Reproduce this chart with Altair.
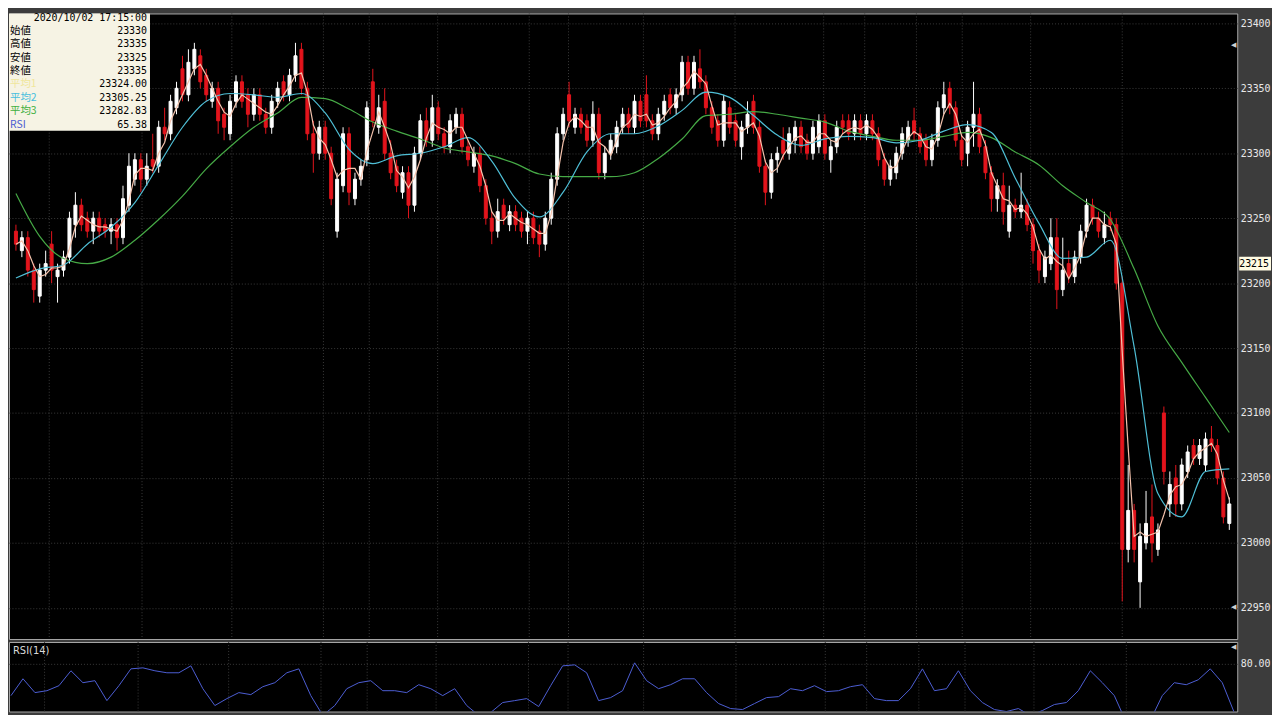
import altair as alt
import pandas as pd

# ---------------- data ----------------
opens = [23240, 23225, 23235, 23210, 23190, 23210, 23230, 23205, 23210, 23220,
         23245, 23260, 23250, 23240, 23250, 23245, 23240, 23245, 23235, 23260,
         23280, 23295, 23280, 23295, 23290, 23320, 23315, 23335, 23365, 23345,
         23365, 23375, 23360, 23340, 23350, 23330, 23315, 23340, 23355, 23345,
         23330, 23345, 23330, 23320, 23340, 23355, 23345, 23360, 23380, 23350,
         23315, 23300, 23320, 23300, 23240, 23275, 23315, 23265, 23280, 23295,
         23355, 23320, 23340, 23300, 23290, 23270, 23285, 23260, 23300, 23325,
         23310, 23335, 23315, 23305, 23320, 23330, 23305, 23290, 23300, 23275,
         23250, 23240, 23260, 23245, 23255, 23250, 23240, 23250, 23240, 23230,
         23250, 23280, 23315, 23345, 23320, 23330, 23325, 23310, 23330, 23285,
         23300, 23305, 23320, 23330, 23320, 23340, 23345, 23325, 23315, 23330,
         23345, 23335, 23345, 23370, 23350, 23365, 23355, 23335, 23325, 23310,
         23335, 23325, 23305, 23320, 23340, 23320, 23290, 23270, 23295, 23310,
         23300, 23310, 23320, 23310, 23300, 23305, 23325, 23295, 23305, 23325,
         23325, 23315, 23325, 23315, 23325, 23315, 23295, 23280, 23285, 23300,
         23310, 23325, 23315, 23310, 23295, 23310, 23335, 23350, 23335, 23310,
         23300, 23320, 23330, 23305, 23285, 23265, 23275, 23240, 23260, 23255,
         23260, 23245, 23225, 23205, 23215, 23235, 23195, 23215, 23205, 23220,
         23240, 23260, 23250, 23235, 23250, 23245, 23200, 22995, 23025, 22970,
         23000, 23020, 22995, 23100, 23030, 23050, 23030, 23055, 23075, 23065,
         23060, 23080, 23075, 23050, 23015]
highs = [23245, 23240, 23240, 23215, 23215, 23225, 23240, 23215, 23225, 23255,
         23270, 23265, 23255, 23255, 23255, 23250, 23250, 23250, 23275, 23300,
         23300, 23300, 23300, 23315, 23325, 23335, 23345, 23355, 23375, 23380,
         23385, 23380, 23365, 23355, 23355, 23335, 23345, 23360, 23360, 23350,
         23350, 23350, 23335, 23345, 23355, 23360, 23365, 23385, 23385, 23355,
         23325, 23325, 23325, 23305, 23285, 23320, 23320, 23285, 23295, 23340,
         23365, 23345, 23350, 23310, 23295, 23290, 23290, 23305, 23330, 23335,
         23345, 23340, 23320, 23330, 23335, 23335, 23310, 23305, 23305, 23280,
         23255, 23265, 23265, 23260, 23260, 23255, 23255, 23255, 23245, 23255,
         23285, 23320, 23335, 23355, 23335, 23335, 23330, 23340, 23335, 23305,
         23315, 23325, 23335, 23335, 23345, 23345, 23360, 23330, 23335, 23345,
         23350, 23350, 23375, 23375, 23375, 23380, 23360, 23340, 23330, 23345,
         23340, 23330, 23325, 23340, 23345, 23325, 23295, 23300, 23305, 23320,
         23320, 23325, 23325, 23315, 23325, 23330, 23330, 23310, 23325, 23330,
         23330, 23330, 23330, 23330, 23330, 23320, 23300, 23295, 23305, 23320,
         23325, 23335, 23320, 23315, 23315, 23340, 23355, 23355, 23340, 23315,
         23325, 23355, 23335, 23310, 23290, 23280, 23285, 23275, 23265, 23285,
         23265, 23250, 23230, 23225, 23250, 23250, 23235, 23225, 23225, 23245,
         23265, 23265, 23255, 23255, 23255, 23250, 23205, 23060, 23030, 23015,
         23040, 23045, 23015, 23105, 23055, 23060, 23065, 23075, 23080, 23080,
         23085, 23090, 23080, 23055, 23035]
lows = [23225, 23220, 23205, 23185, 23185, 23205, 23200, 23185, 23205, 23215,
        23235, 23240, 23235, 23230, 23235, 23235, 23230, 23225, 23230, 23255,
        23275, 23270, 23275, 23285, 23285, 23310, 23310, 23330, 23340, 23340,
        23360, 23350, 23340, 23335, 23315, 23310, 23310, 23335, 23335, 23320,
        23325, 23325, 23315, 23315, 23335, 23340, 23340, 23355, 23345, 23310,
        23285, 23295, 23295, 23260, 23235, 23270, 23260, 23260, 23275, 23290,
        23320, 23315, 23295, 23280, 23270, 23265, 23250, 23255, 23295, 23305,
        23305, 23310, 23300, 23300, 23315, 23300, 23290, 23285, 23270, 23245,
        23230, 23235, 23245, 23240, 23240, 23235, 23230, 23230, 23220, 23225,
        23245, 23275, 23310, 23320, 23315, 23315, 23305, 23305, 23280, 23280,
        23295, 23300, 23315, 23315, 23315, 23320, 23320, 23310, 23310, 23325,
        23330, 23330, 23340, 23345, 23345, 23350, 23330, 23315, 23305, 23305,
        23315, 23305, 23295, 23315, 23315, 23285, 23260, 23265, 23285, 23295,
        23295, 23300, 23300, 23295, 23295, 23300, 23295, 23285, 23300, 23315,
        23310, 23310, 23310, 23310, 23310, 23290, 23275, 23275, 23280, 23295,
        23305, 23310, 23300, 23290, 23290, 23305, 23330, 23330, 23305, 23290,
        23290, 23305, 23300, 23280, 23255, 23255, 23245, 23235, 23250, 23250,
        23240, 23215, 23200, 23200, 23210, 23180, 23190, 23200, 23200, 23215,
        23235, 23245, 23235, 23230, 23240, 23195, 22955, 22985, 22985, 22950,
        22995, 22985, 22990, 23045, 23020, 23020, 23025, 23050, 23060, 23060,
        23055, 23070, 23045, 23015, 23010]
closes = [23230, 23235, 23210, 23195, 23210, 23215, 23210, 23210, 23220, 23250,
          23260, 23245, 23240, 23250, 23240, 23240, 23245, 23235, 23265, 23290,
          23295, 23280, 23290, 23290, 23320, 23315, 23340, 23350, 23345, 23370,
          23380, 23355, 23345, 23350, 23325, 23320, 23340, 23355, 23340, 23330,
          23345, 23330, 23320, 23340, 23350, 23345, 23360, 23375, 23350, 23315,
          23300, 23320, 23300, 23265, 23280, 23315, 23270, 23280, 23290, 23335,
          23325, 23335, 23300, 23285, 23275, 23285, 23260, 23300, 23325, 23310,
          23335, 23315, 23305, 23325, 23330, 23305, 23295, 23300, 23275, 23250,
          23240, 23255, 23250, 23255, 23245, 23240, 23250, 23235, 23230, 23250,
          23280, 23315, 23330, 23325, 23330, 23320, 23310, 23330, 23285, 23300,
          23310, 23320, 23330, 23320, 23340, 23325, 23325, 23315, 23330, 23340,
          23335, 23345, 23370, 23350, 23370, 23355, 23335, 23320, 23310, 23340,
          23320, 23310, 23320, 23330, 23320, 23290, 23270, 23295, 23300, 23300,
          23315, 23320, 23305, 23300, 23320, 23325, 23300, 23305, 23320, 23320,
          23315, 23325, 23315, 23325, 23315, 23295, 23280, 23290, 23300, 23315,
          23320, 23315, 23305, 23295, 23310, 23335, 23345, 23335, 23310, 23295,
          23320, 23330, 23305, 23285, 23265, 23275, 23255, 23260, 23255, 23260,
          23245, 23225, 23210, 23220, 23235, 23195, 23210, 23205, 23220, 23240,
          23260, 23250, 23240, 23245, 23245, 23200, 22995, 23025, 22995, 23005,
          23015, 23000, 23010, 23055, 23045, 23030, 23060, 23070, 23065, 23075,
          23080, 23075, 23050, 23020, 23030]

# moving averages read every 4th candle
ma2_vals = [23204, 23211, 23214, 23230, 23243, 23262, 23291, 23320, 23340, 23346,
            23345, 23343, 23346, 23331, 23303, 23292, 23298, 23300, 23305, 23312,
            23294, 23265, 23251, 23270, 23301, 23315, 23315, 23321, 23333, 23347,
            23343, 23329, 23314, 23306, 23311, 23313, 23312, 23308, 23310, 23317,
            23322, 23316, 23281, 23246, 23219, 23220, 23233, 23151, 23038, 23020,
            23055, 23057]
ma3_vals = [23269, 23236, 23219, 23215, 23220, 23233, 23249, 23267, 23288, 23305,
            23320, 23331, 23343, 23342, 23334, 23324, 23317, 23311, 23304, 23301,
            23298, 23292, 23284, 23282, 23282, 23282, 23285, 23296, 23311, 23329,
            23330, 23332, 23330, 23327, 23324, 23317, 23313, 23310, 23310, 23313,
            23316, 23312, 23301, 23291, 23275, 23262, 23249, 23211, 23167, 23139,
            23112, 23085]
# RSI read every 2nd candle
rsi_vals = [45.1, 63.6, 48.4, 50.5, 56.0, 72.4, 59.3, 61.5, 39.6, 56.0,
            74.5, 75.6, 72.4, 70.2, 70.2, 77.8, 52.7, 34.2, 41.8, 48.4,
            46.2, 54.9, 59.3, 70.2, 74.5, 45.1, 23.3, 34.2, 52.7, 59.3,
            61.5, 50.5, 50.5, 48.4, 57.1, 52.7, 45.1, 52.7, 34.2, 23.3,
            26.5, 37.5, 39.6, 41.8, 33.1, 56.0, 77.8, 78.9, 70.2, 39.6,
            42.9, 50.5, 81.1, 61.5, 52.7, 57.1, 63.6, 63.6, 48.4, 36.4,
            30.9, 29.8, 36.4, 42.9, 44.0, 52.7, 50.5, 56.0, 49.5, 50.5,
            54.9, 57.1, 41.8, 39.6, 39.6, 52.7, 74.5, 50.5, 52.7, 72.4,
            50.5, 37.5, 29.8, 27.6, 30.9, 23.3, 28.7, 35.3, 37.5, 50.5,
            72.4, 59.3, 45.1, 15.6, 9.1, 17.8, 45.1, 59.3, 57.1, 62.5,
            74.5, 59.3, 26.5]

price_ticks = [22950, 23000, 23050, 23100, 23150, 23200, 23250, 23300, 23350, 23400]
rsi_ticks = [80]
session_breaks = [5.6, 21.2, 36.3, 51.7, 59.4, 70.9, 86.3, 92.9, 105.5, 120.9,
                  135.8, 142.7, 151.4, 159.1, 170.6, 186.0]

info_date = "2020/10/02 17:15:00"
info_labels = ["始値", "高値", "安値", "終値", "平均1", "平均2", "平均3", "RSI"]
info_values = ["23330", "23335", "23325", "23335", "23324.00", "23305.25", "23282.83", "65.38"]
info_colors = ["#000000", "#000000", "#000000", "#000000", "#f0e69c", "#46bede", "#3faf3f", "#4a5cd2"]
last_price = 23215

# ---------------- frames ----------------
n = len(closes)
candles = pd.DataFrame({"idx": list(range(n)), "o": opens, "h": highs, "l": lows, "c": closes})
ma2_df = pd.DataFrame({"idx": [4 * k for k in range(len(ma2_vals))], "v": ma2_vals})
ma3_df = pd.DataFrame({"idx": [4 * k for k in range(len(ma3_vals))], "v": ma3_vals})
rsi_df = pd.DataFrame({"idx": [2 * k for k in range(len(rsi_vals))], "v": rsi_vals})
breaks_df = pd.DataFrame({"idx": session_breaks})
last_df = pd.DataFrame({"v": [last_price]})
one = pd.DataFrame({"a": [0]})

BG = "#3c3c3c"
UP = "#ffffff"
DOWN = "#e3141c"
GRID = "#3a3a3a"
LABEL = "#e8e8e8"
MONO = "DejaVu Sans Mono"

xs = alt.Scale(domain=[-0.331, 204.5], nice=False, zero=False)
ys = alt.Scale(domain=[22926.0, 23407.6], nice=False, zero=False)
rs = alt.Scale(domain=[27.64, 104.0], nice=False, zero=False)

price_axis = alt.Axis(orient="right", values=price_ticks, format="d", grid=True,
                      gridColor=GRID, gridDash=[1, 2], ticks=False, domain=False,
                      labelColor=LABEL, labelFont=MONO, labelFontSize=10,
                      labelPadding=3, title=None)
rsi_axis = alt.Axis(orient="right", values=rsi_ticks, format=".2f", grid=True,
                    gridColor=GRID, gridDash=[1, 2], ticks=False, domain=False,
                    labelColor=LABEL, labelFont=MONO, labelFontSize=10,
                    labelPadding=3, title=None)


def X():
    return alt.X("idx:Q", scale=xs, axis=None)


def Y(f):
    return alt.Y(f"{f}:Q", scale=ys, axis=price_axis)


cond = alt.condition("datum.c >= datum.o", alt.value(UP), alt.value(DOWN))

vgrid = alt.Chart(breaks_df).mark_rule(color=GRID, strokeDash=[1, 2], strokeWidth=1).encode(x=X())
wicks = alt.Chart(candles).mark_rule(strokeWidth=1).encode(
    x=X(), y=Y("l"), y2=alt.Y2("h"), color=cond)
bodies = alt.Chart(candles).mark_bar(size=3, strokeWidth=1).encode(
    x=X(), y=Y("o"), y2=alt.Y2("c"), fill=cond, stroke=cond)
ma1 = alt.Chart(candles).transform_window(
    ma1="mean(c)", frame=[-2, 0], sort=[alt.SortField("idx")]
).mark_line(color="#f5c3ad", strokeWidth=1.2).encode(x=X(), y=Y("ma1"))
ma2 = alt.Chart(ma2_df).mark_line(color="#4fbfd6", strokeWidth=1.2, interpolate="monotone").encode(x=X(), y=Y("v"))
ma3 = alt.Chart(ma3_df).mark_line(color="#46aa46", strokeWidth=1.2, interpolate="monotone").encode(x=X(), y=Y("v"))

# info box
info_rect = alt.Chart(one).mark_rect(color="#f6f3e4").encode(
    x=alt.value(0), x2=alt.value(142), y=alt.value(0), y2=alt.value(118))
texts = [alt.Chart(one).mark_text(text=info_date, align="right", baseline="middle", font=MONO,
                                  fontSize=10, color="#000000").encode(x=alt.value(139), y=alt.value(5))]
for r in range(len(info_labels)):
    yy = 17.5 + 13.5 * r
    texts.append(alt.Chart(one).mark_text(text=info_labels[r], align="left", baseline="middle",
                                          font="Noto Sans CJK JP", fontSize=10.5,
                                          color=info_colors[r]).encode(x=alt.value(1), y=alt.value(yy)))
    texts.append(alt.Chart(one).mark_text(text=info_values[r], align="right", baseline="middle",
                                          font=MONO, fontSize=10,
                                          color="#000000").encode(x=alt.value(139), y=alt.value(yy)))

# last price tag on the axis
tag_rect = alt.Chart(last_df).mark_rect(color="#fffbe2", yOffset=-7, y2Offset=7).encode(
    x=alt.value(1239), x2=alt.value(1271), y=Y("v"), y2=alt.Y2("v"))
tag_text = alt.Chart(last_df).mark_text(align="right", baseline="middle", font=MONO, fontSize=10,
                                        color="#000000").encode(
    x=alt.value(1269), y=Y("v"), text=alt.Text("v:Q", format="d"))

tri1 = alt.Chart(one).mark_text(text="◀", fontSize=7, color="#cfcfcf").encode(x=alt.value(1233), y=alt.value(32))
tri2 = alt.Chart(one).mark_text(text="◀", fontSize=7, color="#cfcfcf").encode(x=alt.value(1233), y=alt.value(598))

main = alt.layer(vgrid, wicks, bodies, ma3, ma2, ma1, info_rect, *texts,
                 tag_rect, tag_text, tri1, tri2).properties(width=1237, height=630)

rsi_line = alt.Chart(rsi_df).mark_line(color="#4d5ed4", strokeWidth=1, clip=True).encode(
    x=X(), y=alt.Y("v:Q", scale=rs, axis=rsi_axis))
rsi_title = alt.Chart(one).mark_text(text="RSI(14)", align="left", baseline="middle",
                                     font="DejaVu Sans", fontSize=10, color="#d8d8d8").encode(
    x=alt.value(4), y=alt.value(9))
tri3 = alt.Chart(one).mark_text(text="◀", fontSize=7, color="#cfcfcf").encode(x=alt.value(1233), y=alt.value(5))
rsi_panel = alt.layer(vgrid, rsi_line, rsi_title, tri3).properties(width=1237, height=70)

chart = alt.vconcat(main, rsi_panel, spacing=1).properties(
    background=BG, padding={"left": 0, "top": 2, "right": 0, "bottom": 0}
).configure_view(fill="#000000", stroke="#a8a8a8", strokeWidth=1)

chart.save("out.html", embed_options={"renderer": "svg", "actions": False})
